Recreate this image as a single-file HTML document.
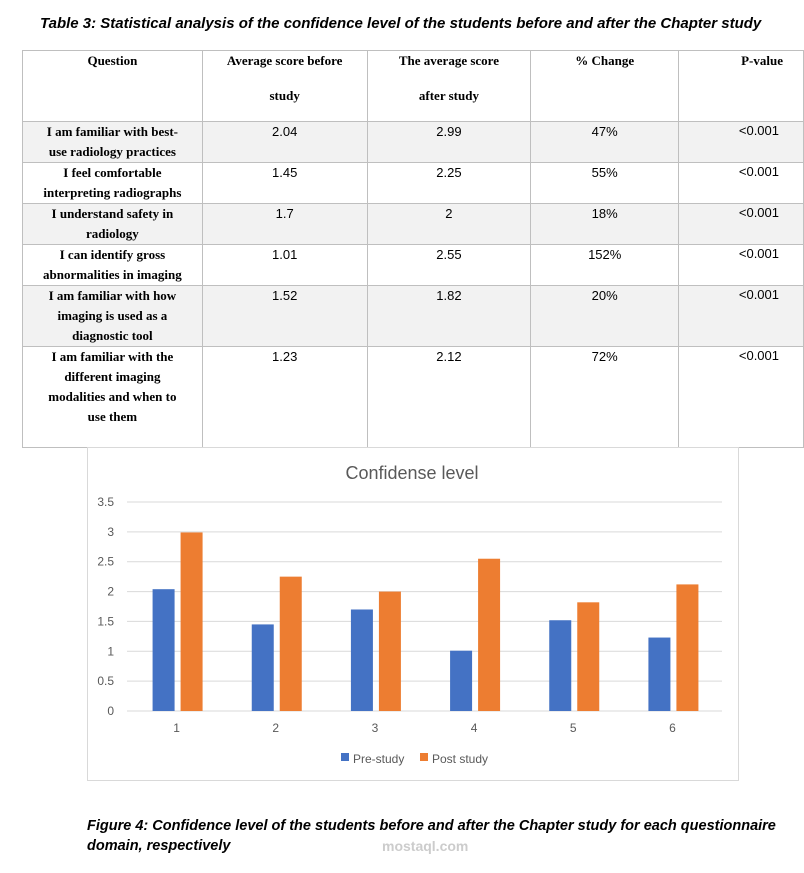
<!DOCTYPE html>
<html><head><meta charset="utf-8"><style>
body{margin:0;width:804px;height:873px;background:#fff;position:relative;overflow:hidden;font-family:"Liberation Sans",sans-serif}
.abs{position:absolute}
.cap{font-family:"Liberation Sans",sans-serif;font-weight:bold;font-style:italic;color:#000;white-space:nowrap}
table{position:absolute;left:22px;top:50px;border-collapse:collapse;table-layout:fixed}
td{border:1px solid #bfbfbf;vertical-align:top;padding:0;font-size:13px;box-sizing:border-box}
td.q{font-family:"Liberation Serif",serif;font-weight:bold;text-align:center;line-height:20px;font-size:13px}
td.n{text-align:center;padding-top:2px}
td.p{text-align:right;padding-right:24px;padding-top:1px}
tr.g td{background:#f2f2f2}
th{font-family:"Liberation Serif",serif;font-weight:bold;font-size:13px;border:1px solid #bfbfbf;vertical-align:top;line-height:35px;padding:0;box-sizing:border-box}
th div{position:relative;top:-8px}
</style></head><body>
<div class="abs cap" style="left:40px;top:15px;font-size:15px">Table 3: Statistical analysis of the confidence level of the students before and after the Chapter study</div>
<table>
<colgroup><col style="width:180px"><col style="width:165px"><col style="width:164px"><col style="width:148px"><col style="width:125px"></colgroup>
<tr style="height:70px"><th><div>Question</div></th><th><div>Average score before<br>study</div></th><th><div>The average score<br>after study</div></th><th><div>% Change</div></th><th style="text-align:right;padding-right:20px"><div>P-value</div></th></tr>
<tr class="g" style="height:41px"><td class="q">I am familiar with best-<br>use radiology practices</td><td class="n">2.04</td><td class="n">2.99</td><td class="n">47%</td><td class="p">&lt;0.001</td></tr>
<tr style="height:41px"><td class="q">I feel comfortable<br>interpreting radiographs</td><td class="n">1.45</td><td class="n">2.25</td><td class="n">55%</td><td class="p">&lt;0.001</td></tr>
<tr class="g" style="height:41px"><td class="q">I understand safety in<br>radiology</td><td class="n">1.7</td><td class="n">2</td><td class="n">18%</td><td class="p">&lt;0.001</td></tr>
<tr style="height:41px"><td class="q">I can identify gross<br>abnormalities in imaging</td><td class="n">1.01</td><td class="n">2.55</td><td class="n">152%</td><td class="p">&lt;0.001</td></tr>
<tr class="g" style="height:61px"><td class="q">I am familiar with how<br>imaging is used as a<br>diagnostic tool</td><td class="n">1.52</td><td class="n">1.82</td><td class="n">20%</td><td class="p">&lt;0.001</td></tr>
<tr style="height:101px"><td class="q">I am familiar with the<br>different imaging<br>modalities and when to<br>use them</td><td class="n">1.23</td><td class="n">2.12</td><td class="n">72%</td><td class="p">&lt;0.001</td></tr>
</table>
<svg class="abs" style="left:0;top:0" width="804" height="873" id="chart">
<rect x="87.5" y="447.5" width="651" height="333" fill="#fff" stroke="#d9d9d9"/>
<text x="412" y="479" text-anchor="middle" font-size="18" fill="#595959" font-family="Liberation Sans">Confidense level</text>
<g id="grid"></g><g id="bars"></g><g id="xl"></g>
<rect x="341" y="753" width="8" height="8" fill="#4472c4"/>
<text x="353" y="763" font-size="12" fill="#595959">Pre-study</text>
<rect x="420" y="753" width="8" height="8" fill="#ed7d31"/>
<text x="432" y="763" font-size="12" fill="#595959">Post study</text>
</svg>
<div class="abs cap" style="left:87px;top:816px;line-height:20px;font-size:14.5px">Figure 4: Confidence level of the students before and after the Chapter study for each questionnaire<br>domain, respectively</div>
<div class="abs" style="left:382px;top:838px;font-size:14px;color:#ccc;font-weight:bold">mostaql.com</div>
<script>
const categories=["1","2","3","4","5","6"];
const preStudy=[2.04,1.45,1.7,1.01,1.52,1.23];
const postStudy=[2.99,2.25,2,2.55,1.82,2.12];
const yTicks=[0,0.5,1,1.5,2,2.5,3,3.5];
const NS="http://www.w3.org/2000/svg";
const x0=127,x1=722,y0=711,yMax=3.5,yTop=502;
const y=v=>y0-(v/yMax)*(y0-yTop);
const bw=(x1-x0)/categories.length;
const cx=i=>x0+bw*(i+0.5);
function mk(t,a,p){const e=document.createElementNS(NS,t);for(const k in a)e.setAttribute(k,a[k]);document.getElementById(p).appendChild(e);return e;}
yTicks.forEach(v=>{
 const l=mk('line',{x1:x0,x2:x1,y1:y(v),y2:y(v),stroke:'#d9d9d9','stroke-width':1},'grid');
 
 
 const t=mk('text',{x:114,y:y(v)+4,'text-anchor':'end','font-size':12,fill:'#595959'},'grid');t.textContent=v;
 
 
});
categories.forEach((c,i)=>{
 const b1=mk('rect',{x:cx(i)-24,y:y(preStudy[i]),width:22,height:y0-y(preStudy[i]),fill:'#4472c4'},'bars');
 
 
 const b2=mk('rect',{x:cx(i)+4,y:y(postStudy[i]),width:22,height:y0-y(postStudy[i]),fill:'#ed7d31'},'bars');
 
 
 const t=mk('text',{x:cx(i),y:732,'text-anchor':'middle','font-size':12,fill:'#595959'},'xl');t.textContent=c;
 
 
});
</script>
</body></html>
